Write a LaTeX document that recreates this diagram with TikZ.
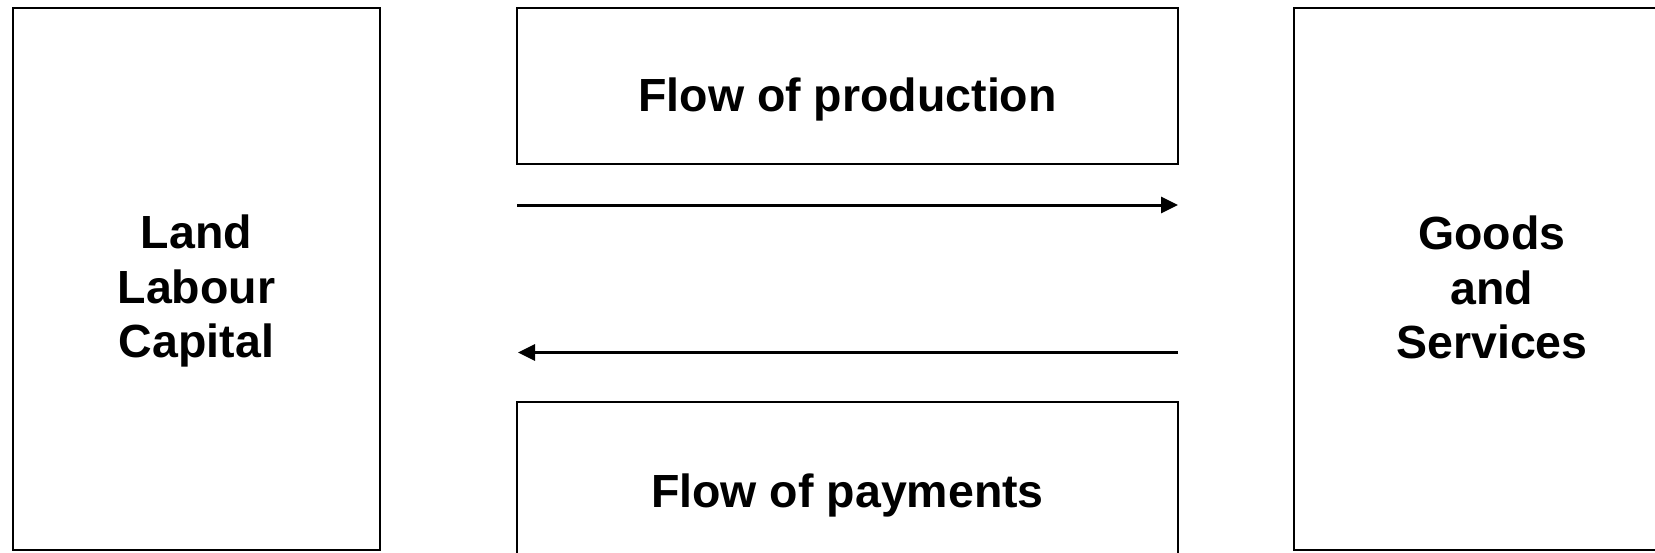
\documentclass[tikz,border=0pt]{standalone}
\usepackage{fontspec}
\setmainfont{Liberation Sans}
\usetikzlibrary{arrows.meta}
\begin{document}
\begin{tikzpicture}[x=1pt,y=-1pt,
  box/.style={draw=black,line width=2.4pt,inner sep=0pt,outer sep=0pt,anchor=north west},
  lbl/.style={font=\fontsize{46.5}{54.5}\selectfont\bfseries,align=center,inner sep=0pt},
  flow/.style={line width=3pt,-{Triangle[length=17pt,width=16pt]}}]
\useasboundingbox (0,0) rectangle (1655,552);
\clip (0,0) rectangle (1655,552);
\fill[white] (0,0) rectangle (1655,552);
% boxes
\node[box,minimum width=367pt,minimum height=542pt] (factors) at (13,8) {};
\node[box,minimum width=396pt,minimum height=542pt] (goods) at (1294,8) {};
\node[box,minimum width=661pt,minimum height=156pt] (prod) at (517,8) {};
\node[box,minimum width=661pt,minimum height=156pt] (pay) at (517,402) {};
% texts
\node[lbl,anchor=base] (prodtxt) at (847.5,111) {Flow of production};
\node[lbl,anchor=base] (paytxt) at (847.5,507) {Flow of payments};
\node[lbl,anchor=north] (factxt) at (196.5,215) {Land\\Labour\\Capital};
\node[lbl,anchor=north] (goodstxt) at (1492,216) {Goods\\and\\Services};
% arrows
\coordinate (p1) at (517,205);
\coordinate (p2) at (1178,205);
\coordinate (q1) at (1178,352.5);
\coordinate (q2) at (518,352.5);
\draw[flow] (p1) -- (p2);
\draw[flow] (q1) -- (q2);
\end{tikzpicture}
\end{document}
